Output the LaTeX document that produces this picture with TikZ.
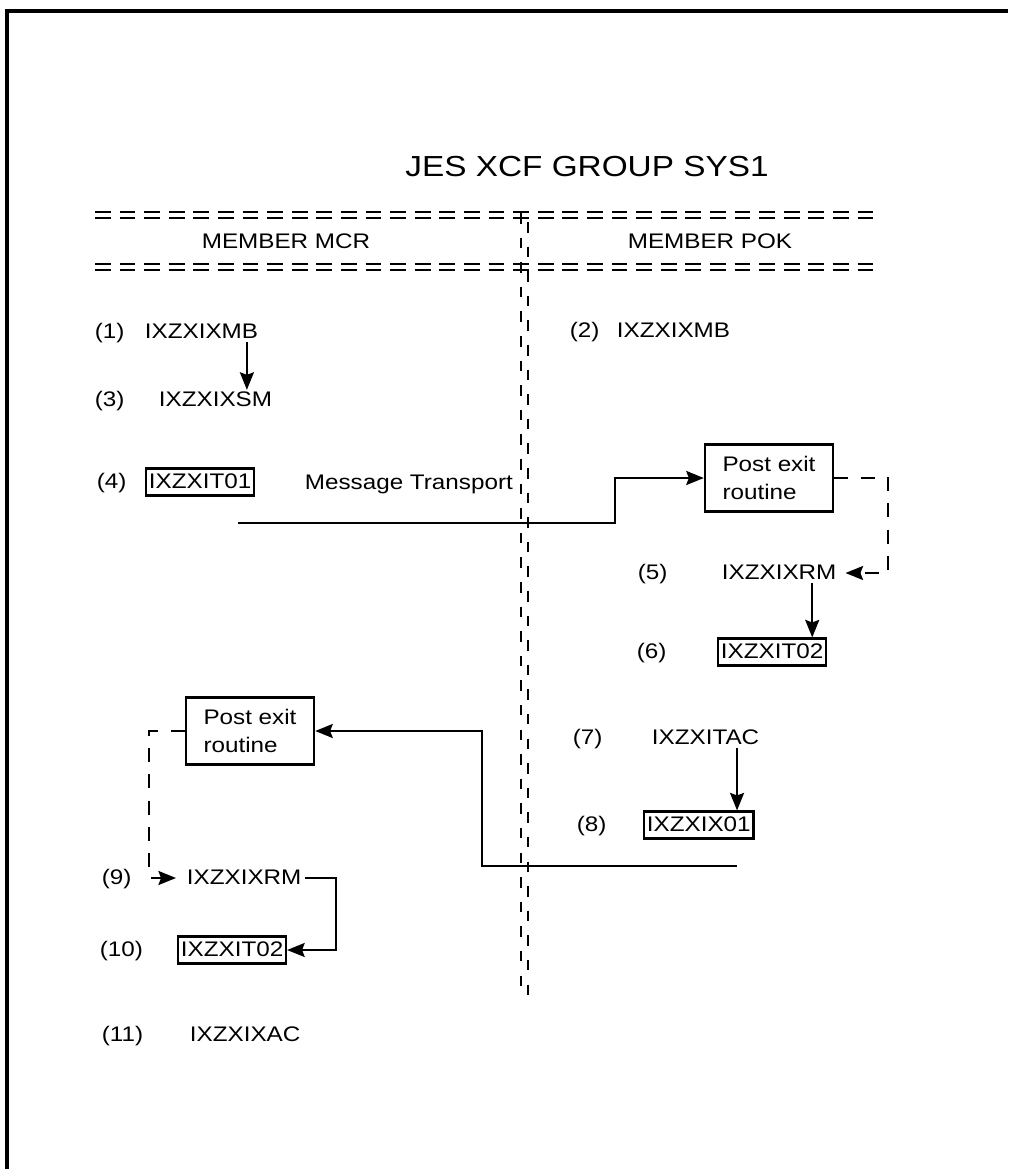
\documentclass[tikz,border=0pt]{standalone}
\usepackage{fontspec}
\setmainfont{Liberation Sans}[FakeStretch=1.15]
\usepackage{tikz}
\usetikzlibrary{arrows.meta, calc, positioning}

\begin{document}
\begin{tikzpicture}[
  x=0.02cm, y=-0.02cm,
  txt/.style  = {anchor=west, inner sep=2pt, text height=0.72em, text depth=0pt, font=\fontsize{12}{16}\selectfont},
  nbox/.style = {txt, draw, line width=1.4pt, inner xsep=1.5pt, inner ysep=4pt},
  pbox/.style = {draw, line width=1.4pt, align=left, minimum width=2.56cm, minimum height=1.34cm, font=\fontsize{12}{16}\selectfont},
  arr/.style  = {-{Stealth[length=10pt,width=8pt,inset=1.5pt]}, line width=1.1pt},
  darr/.style = {arr, dash pattern=on 8pt off 7pt},
  hsep/.style = {line width=1.2pt, dash pattern=on 9pt off 5pt},
  vsep/.style = {line width=1.2pt, dash pattern=on 6pt off 8pt},
]
\useasboundingbox (0,0) rectangle (1008,1169);
%%--- Frame (top and left edge) ---
\draw[line width=1.8pt] (7,1169) -- (7,11) -- (1008,11);
%%--- Title and members ---
\node[font=\fontsize{16.5}{20}\selectfont] (ttl) at (587,167) {JES XCF GROUP SYS1};
\node[txt, anchor=center] (mmcr) at (286,242) {MEMBER MCR};
\node[txt, anchor=center] (mpok) at (710,242) {MEMBER POK};
%%--- Separators ---
\draw[hsep] (95,212) -- (880,212);
\draw[hsep] (95,218) -- (880,218);
\draw[hsep] (95,264) -- (880,264);
\draw[hsep] (95,270) -- (880,270);
\draw[vsep] (521,213) -- (521,1000);
\draw[vsep] (528,222) -- (528,1000);
%%--- Member MCR: send ---
\node[txt]  (n1)  at (91,332)  {(1)};
\node[txt]  (mb1) at (141,332) {IXZXIXMB};
\node[txt]  (n3)  at (91,400)  {(3)};
\node[txt]  (sm3) at (155,400) {IXZXIXSM};
\node[txt]  (n4)  at (93,482)  {(4)};
\node[nbox] (it4) at (145,482) {IXZXIT01};
\node[txt]  (mtx) at (301,483) {Message Transport};
\coordinate (a1) at ($(mb1.south east)+(-15,0)$);
\draw[arr] (a1) -- (a1 |- sm3.north);
%%--- Member POK: receive ---
\node[txt]  (n2)  at (566,331) {(2)};
\node[txt]  (mb2) at (613,331) {IXZXIXMB};
\node[pbox] (pe1) at (769,478) {Post exit\\routine};
\node[txt]  (n5)  at (634,573) {(5)};
\node[txt]  (rm5) at (718,573) {IXZXIXRM};
\node[txt]  (n6)  at (633,652) {(6)};
\node[nbox] (it6) at (717,652) {IXZXIT02};
\node[txt]  (n7)  at (569,738) {(7)};
\node[txt]  (ac7) at (648,738) {IXZXITAC};
\node[txt]  (n8)  at (573,825) {(8)};
\node[nbox] (ix8) at (643,825) {IXZXIX01};
\coordinate (mts) at (238,523);
\coordinate (mtb) at (615,523);
\draw[arr] (mts) -- (mtb) |- (pe1.west);
\coordinate (pd1) at (888,573);
\draw[darr, shorten >=3pt] (pe1.east) -| (pd1) -- (rm5.east);
\coordinate (a5) at ($(rm5.south east)+(-28,0)$);
\draw[arr] (a5) -- (a5 |- it6.north);
\coordinate (a7) at ($(ac7.south east)+(-26,0)$);
\draw[arr] (a7) -- (a7 |- ix8.north);
%%--- Member MCR: reply ---
\node[pbox] (pe2) at (250,731) {Post exit\\routine};
\node[txt]  (n9)  at (98,878)   {(9)};
\node[txt]  (rm9) at (183,878)  {IXZXIXRM};
\node[txt]  (n10) at (96,950)   {(10)};
\node[nbox] (it10) at (177,950) {IXZXIT02};
\node[txt]  (n11) at (98,1035)  {(11)};
\node[txt]  (ac11) at (186,1035) {IXZXIXAC};
\coordinate (rts) at (737,866);
\coordinate (rtb) at (482,866);
\draw[arr] (rts) -- (rtb) |- (pe2.east);
\coordinate (pd2) at (149,878);
\draw[darr, shorten >=4pt] (pe2.west) -| (pd2) -- (rm9.west);
\draw[arr] (rm9.east) -- ++(31,0) |- (it10.east);
\end{tikzpicture}
\end{document}
